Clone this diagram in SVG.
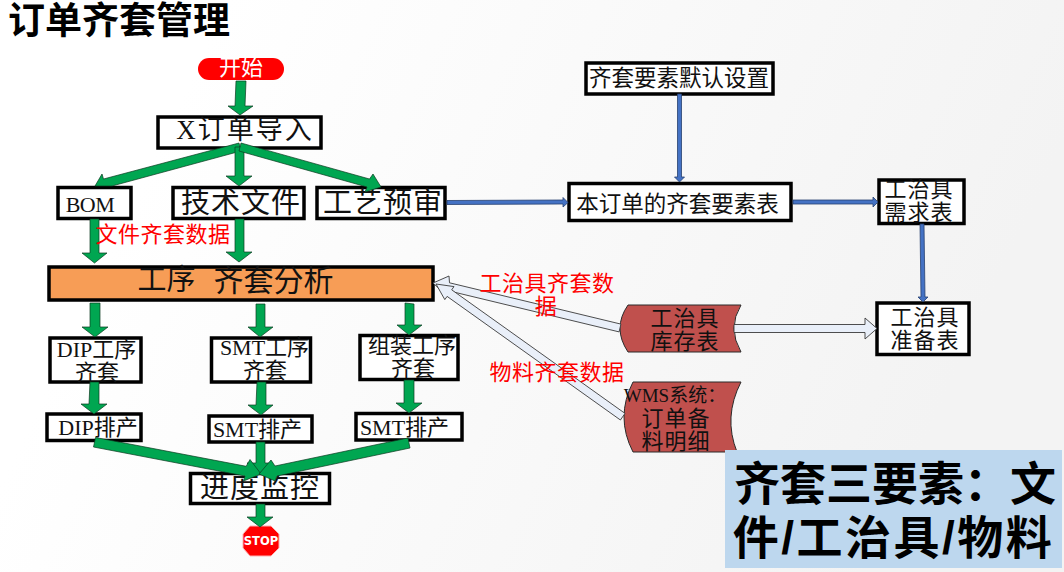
<svg xmlns="http://www.w3.org/2000/svg" width="1064" height="572" viewBox="0 0 1064 572">
  <defs>
    <linearGradient id="page" x1="0" y1="0" x2="1" y2="0.25">
      <stop offset="0.2" stop-color="#ffffff"/>
      <stop offset="1" stop-color="#f3f3f3"/>
    </linearGradient>
  </defs>
  <style>
    text { font-family: "Liberation Serif", "Noto Sans CJK SC", serif; fill: #111; text-anchor: middle; dominant-baseline: central; }
    .box { fill: #fff; stroke: #000; stroke-width: 3.5; }
    .green { fill: #00a651; stroke: #0b3a20; stroke-width: 0.7; }
    .blue { fill: #4472c4; stroke: #27406f; stroke-width: 0.8; }
    .pale { fill: #e9eff9; stroke: #3a3a3a; stroke-width: 0.9; }
    .store { fill: #c0504d; stroke: #2b2b2b; stroke-width: 1; }
    .note { fill: #ff0000; font-size: 22px; letter-spacing: 0.5px; }
    .heading { font-family: "Liberation Sans", "Noto Sans CJK SC", sans-serif; font-weight: 700; fill: #000; }
    .s22 { font-size: 22px; }
    .s23 { font-size: 22.5px; }
    .s29 { font-size: 29px; }
    .s30 { font-size: 30px; }
  </style>

  <rect width="1064" height="572" fill="url(#page)"/>
  <text class="heading" x="119" y="21" font-size="37">订单齐套管理</text>

  <g id="node-start">
    <rect x="198" y="58" width="86" height="22" rx="11" fill="#ff0000"/>
    <text x="241" y="67" font-size="22" style="fill:#fff">开始</text>
  </g>
  <g id="node-import">
    <rect class="box" x="158" y="117" width="163" height="31"/>
    <text x="245" y="130" font-size="27" letter-spacing="2">X订单导入</text>
  </g>
  <g id="node-bom">
    <rect class="box" x="58" y="187.500" width="73" height="31"/>
    <text x="90" y="204" font-size="22" letter-spacing="-0.5">BOM</text>
  </g>
  <g id="node-techfile">
    <rect class="box" x="173" y="187.500" width="131" height="31"/>
    <text class="s29" x="241" y="203" letter-spacing="1">技术文件</text>
  </g>
  <g id="node-review">
    <rect class="box" x="317" y="187.500" width="128" height="31"/>
    <text class="s29" x="383" y="203" letter-spacing="1">工艺预审</text>
  </g>
  <g id="node-analysis">
    <rect x="49" y="267" width="384" height="33" fill="#f79d56" stroke="#000" stroke-width="3.500"/>
    <text class="s29" x="166.500" y="280">工序</text>
    <text class="s30" x="273.500" y="280">齐套分析</text>
  </g>
  <g id="node-dip-kit">
    <rect class="box" x="50" y="338" width="91" height="44"/>
    <text class="s22"><tspan x="96.500" y="348.500">DIP工序</tspan><tspan x="97" y="371.500">齐套</tspan></text>
  </g>
  <g id="node-smt-kit">
    <rect class="box" x="211.500" y="338" width="99" height="44"/>
    <text class="s22"><tspan x="264.500" y="346.500">SMT工序</tspan><tspan x="265" y="369.500">齐套</tspan></text>
  </g>
  <g id="node-assembly-kit">
    <rect class="box" x="360" y="335.500" width="98" height="44"/>
    <text class="s22"><tspan x="412" y="344.500">组装工序</tspan><tspan x="413" y="367.500">齐套</tspan></text>
  </g>
  <g id="node-dip-plan">
    <rect class="box" x="47" y="414" width="94" height="26.500"/>
    <text class="s22" x="98" y="427">DIP排产</text>
  </g>
  <g id="node-smt-plan-a">
    <rect class="box" x="209" y="416" width="103" height="26"/>
    <text class="s22" x="257.500" y="429">SMT排产</text>
  </g>
  <g id="node-smt-plan-b">
    <rect class="box" x="356" y="413.500" width="106" height="26.500"/>
    <text class="s22" x="404.500" y="427">SMT排产</text>
  </g>
  <g id="node-progress">
    <rect class="box" x="190.500" y="473.500" width="139" height="30"/>
    <text x="260" y="488" font-size="29" letter-spacing="1">进度监控</text>
  </g>
  <g id="node-stop">
    <polygon points="250,526 271,526 279,534 279,548 271,556 250,556 243,548 243,534" fill="#ff0000" stroke="#ffb0b0" stroke-width="1"/>
    <text x="261" y="541" font-size="11.500" style="font-family:'DejaVu Sans',sans-serif;font-weight:700;fill:#fff">STOP</text>
  </g>
  <g id="node-defaults">
    <rect class="box" x="586" y="63" width="187" height="31"/>
    <text class="s23" x="679" y="78">齐套要素默认设置</text>
  </g>
  <g id="node-order-elements">
    <rect class="box" x="569" y="183.500" width="222" height="37"/>
    <text class="s23" x="677.500" y="204">本订单的齐套要素表</text>
  </g>
  <g id="node-tool-demand">
    <rect class="box" x="879" y="180" width="85" height="43.500"/>
    <text class="s22" letter-spacing="1"><tspan x="919" y="189">工治具</tspan><tspan x="919" y="212">需求表</tspan></text>
  </g>
  <g id="node-tool-ready">
    <rect class="box" x="877" y="303" width="92" height="51.500"/>
    <text class="s22" letter-spacing="1"><tspan x="925" y="317">工治具</tspan><tspan x="925" y="340">准备表</tspan></text>
  </g>
  <g id="node-tool-stock">
    <path class="store" d="M628,305 H741 Q727,328 741,352 H628 Q612,328 628,305 Z"/>
    <text class="s22" letter-spacing="1"><tspan x="685" y="317.500">工治具</tspan><tspan x="685" y="340.500">库存表</tspan></text>
  </g>
  <g id="node-wms">
    <path class="store" d="M633,382 H741 Q723,417 737,452 H633 Q615,417 633,382 Z"/>
    <text class="s22" letter-spacing="1"><tspan x="675" y="395" font-size="19" letter-spacing="0">WMS系统：</tspan><tspan x="676" y="417.500">订单备</tspan><tspan x="676" y="440.500">料明细</tspan></text>
  </g>

  <g id="connectors">
    <!-- main flow -->
    <polygon class="green" points="236,81 246,81 245,106 253,106 240,115 228,106 235,106"/>
    <polygon class="green" points="95,186 102,174 103.500,179 239,143 241,151 112,186"/>
    <polygon class="green" points="235,147 244,147 244,176 252,176 239,186 226,176 235,176"/>
    <polygon class="green" points="241,143 369.500,179 373,174 381,187 365,192 367,187 239,151"/>
    <polygon class="green" points="90,219 99,219 99,253 107,253 94.500,263 82,253 90,253"/>
    <polygon class="green" points="235,219 244,219 244,252 252,252 239,262 226,252 235,252"/>
    <polygon class="green" points="90,303 100,303 100,327 108,327 95,337 82,327 90,327"/>
    <polygon class="green" points="256,304 265,304 265,327 273,327 260,337 248,327 256,327"/>
    <polygon class="green" points="405,303 414,304 414,325 422,325 409,335 397,325 405,325"/>
    <polygon class="green" points="90,382 99,382 99,404 107,404 94,414 81,404 89,404"/>
    <polygon class="green" points="257,382 266,382 266,405 273,405 261,415 248,405 256,405"/>
    <polygon class="green" points="404,380 414,380 414,403 422,403 409,413 396,403 404,403"/>
    <polygon class="green" points="256,442 265,442 265,463 273,463 260,473 247,463 256,463"/>
    <polygon class="green" points="95.500,437.500 246.200,466.300 250,459.500 261,474 243.500,481 245,476 93.500,447"/>
    <polygon class="green" points="408,438 275,466 271,460 259,474 275,481 277,476 410,448"/>
    <polygon class="green" points="256,504 265,504 265,517 273,517 260,527 247,517 256,517"/>
    <!-- requirement flow -->
    <polygon class="blue" points="677.500,94 681.500,94 681.500,177 684.500,177 679.500,182 674.500,177 677.500,177"/>
    <polygon class="blue" points="447,200.500 563,200 563,197.500 568,202.500 563,207 563,204 447,204.500"/>
    <polygon class="blue" points="793,200 873,200 873,197 878,202 873,207 873,204 793,204"/>
    <polygon class="blue" points="920,224 924,224 925,297 928,297 923,302 918,297 921,297"/>
    <!-- stock data flow -->
    <polygon class="pale" points="620.900,324.100 449.500,282.800 449,276 433,283 446.500,295.500 447.700,290.600 619.100,331.900"/>
    <polygon class="pale" points="625,413.400 451.700,289.800 454,286.600 436,284 444.800,299.600 447.100,296.400 620.400,420"/>
    <polygon class="pale" points="734,324.500 865,324.500 865,318 877,328.500 865,339 865,332.500 734,332.500"/>
  </g>

  <g id="data-labels">
    <text class="note" x="163" y="234">文件齐套数据</text>
    <text class="note"><tspan x="547" y="282.500">工治具齐套数</tspan><tspan x="546" y="305.500">据</tspan></text>
    <text class="note" x="557" y="372">物料齐套数据</text>
  </g>

  <g id="summary">
    <rect x="725" y="450" width="337" height="118" fill="#bdd7ee"/>
    <text class="heading" x="895" y="484" font-size="46">齐套三要素：文</text>
    <text class="heading" x="893.500" y="538" font-size="46" letter-spacing="2.500">件/工治具/物料</text>
  </g>
</svg>
